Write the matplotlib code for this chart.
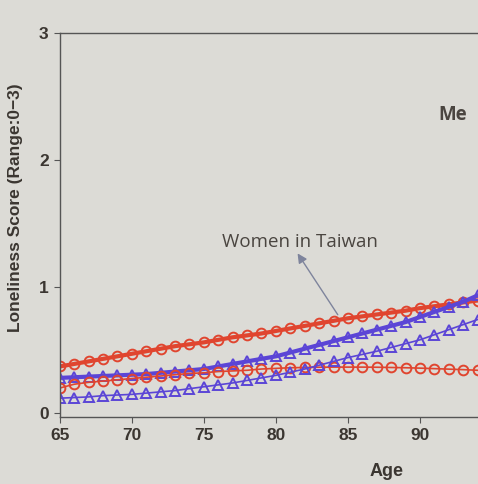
import numpy as np
import matplotlib.pyplot as plt

ages = list(range(65, 96))

# thick lines
red_thick = [0.37, 0.39, 0.41, 0.43, 0.45, 0.47, 0.49, 0.51, 0.53, 0.545,
             0.56, 0.58, 0.60, 0.615, 0.63, 0.65, 0.67, 0.69, 0.71, 0.73,
             0.75, 0.765, 0.78, 0.795, 0.81, 0.83, 0.845, 0.86, 0.875, 0.89, 0.905]
blue_thick = [0.28, 0.285, 0.29, 0.295, 0.30, 0.305, 0.31, 0.32, 0.33, 0.34,
              0.35, 0.37, 0.39, 0.41, 0.43, 0.45, 0.48, 0.51, 0.54, 0.57,
              0.60, 0.63, 0.66, 0.69, 0.72, 0.76, 0.80, 0.84, 0.88, 0.93, 0.98]
# thin lines
red_thin = [0.20, 0.23, 0.245, 0.255, 0.265, 0.275, 0.285, 0.295, 0.305, 0.315,
            0.32, 0.33, 0.335, 0.34, 0.35, 0.355, 0.36, 0.362, 0.364, 0.365,
            0.365, 0.365, 0.364, 0.362, 0.36, 0.357, 0.353, 0.349, 0.345, 0.34, 0.335]
blue_thin = [0.12, 0.125, 0.13, 0.14, 0.145, 0.15, 0.16, 0.17, 0.18, 0.195,
             0.21, 0.225, 0.24, 0.26, 0.28, 0.30, 0.325, 0.35, 0.38, 0.41,
             0.44, 0.465, 0.49, 0.52, 0.55, 0.58, 0.62, 0.66, 0.70, 0.74, 0.78]

xticks = [65, 70, 75, 80, 85, 90]
yticks = [0, 1, 2, 3]

bg = '#dcdbd6'
red = '#e0452f'
blue = '#5b45d6'
txt = '#3b3631'

plt.rcParams['font.family'] = ['Liberation Sans', 'DejaVu Sans']

fig = plt.figure(figsize=(4.78, 4.84), dpi=100, facecolor=bg)
# axes runs off the right edge like the photo of the slide
ax = fig.add_axes([0.125, 0.138, 1.055, 0.794], facecolor=bg)

ax.plot(ages, red_thick, color=red, lw=3.0, marker='o', ms=7, mfc='none', mew=1.4)
ax.plot(ages, blue_thick, color=blue, lw=3.0, marker='^', ms=7, mfc='none', mew=1.4)
ax.plot(ages, red_thin, color=red, lw=1.2, marker='o', ms=7, mfc='none', mew=1.4)
ax.plot(ages, blue_thin, color=blue, lw=1.2, marker='^', ms=7, mfc='none', mew=1.4)

ax.set_xlim(65, 100)
ax.set_ylim(-0.03, 3)
ax.set_xticks(xticks)
ax.set_yticks(yticks)
ax.tick_params(length=4, width=0.8, color='#555', labelcolor=txt, labelsize=12.5, pad=4)
for lab in ax.get_xticklabels() + ax.get_yticklabels():
    lab.set_fontweight('bold')
for s in ax.spines.values():
    s.set_color('#555')
    s.set_linewidth(1.0)

ax.set_ylabel('Loneliness Score (Range:0\u22123)', fontsize=12.5, color=txt,
              fontweight='bold')
ax.yaxis.set_label_coords(-0.072, 0.546)
ax.text(87.7, -0.39, 'Age', fontsize=13, color=txt, fontweight='bold',
        ha='center', va='top')

ax.annotate('', xy=(81.4, 1.28), xytext=(84.4, 0.76),
            arrowprops=dict(arrowstyle='-|>', color='#7e849c', lw=1.0,
                            mutation_scale=14))
ax.text(81.7, 1.35, 'Women in Taiwan', fontsize=13.5, color='#4a4540',
        family=['Open Sans', 'DejaVu Sans'], ha='center', va='center')
# only the start of this label is visible in the photo
ax.text(91.3, 2.35, 'Me', fontsize=13.5, color='#4a4540',
        family=['Open Sans', 'DejaVu Sans'], ha='left', va='center',
        fontweight='bold')

fig.savefig('out.png', dpi=100, facecolor=bg)
